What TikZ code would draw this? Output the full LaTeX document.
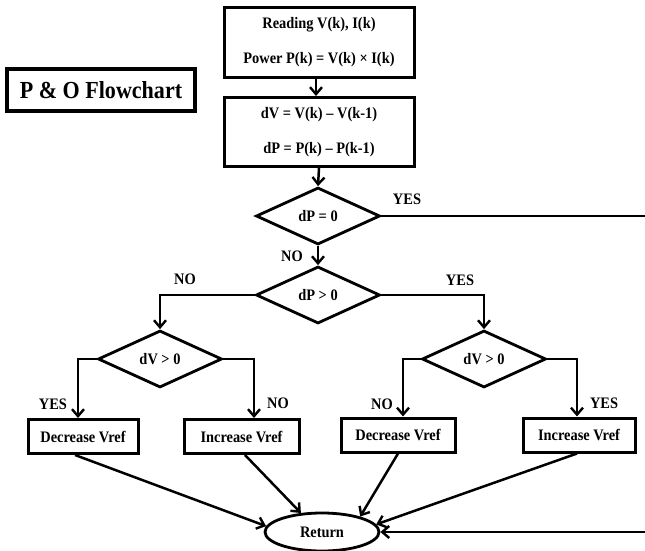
\documentclass[tikz,border=0pt]{standalone}
\usepackage{fontspec}
\setmainfont{Liberation Serif}[FakeStretch=0.9]
\usetikzlibrary{shapes.geometric,arrows.meta}
\begin{document}
\begin{tikzpicture}[x=1pt,y=-1pt,
  every node/.style={font=\bfseries\fontsize{16}{19}\selectfont, inner sep=0pt},
  procbox/.style={draw, line width=3pt, rectangle, minimum width=#1, minimum height=34pt},
  twoline/.style={draw, line width=3pt, rectangle, minimum width=190pt, minimum height=69pt,
    align=center, font=\bfseries\fontsize{16}{35}\selectfont},
  decision/.style={draw, line width=2.8pt, diamond, aspect=2.2, minimum width=124pt, minimum height=57pt},
  terminal/.style={draw, line width=2.8pt, ellipse, minimum width=114pt, minimum height=38pt},
  lbl/.style={},
  arr/.style={line width=2.5pt, -{Straight Barb[length=7pt,width=12pt,line width=2.4pt]}},
  link/.style={line width=2.5pt}
]
% page frame
\path[use as bounding box] (0,0) rectangle (645,551);
\fill[white] (0,0) rectangle (645,551);
\clip (0,0) rectangle (645,551);

% title
\node[draw, line width=3.5pt, minimum width=188pt, minimum height=42pt,
      font=\bfseries\fontsize{24.5}{28}\selectfont] (title) at (101,90) {P \& O Flowchart};

% measurement and differences
\node[twoline] (read) at (319,42.5) {Reading V(k), I(k)\\Power P(k) = V(k) × I(k)};
\node[twoline] (diff) at (319,132) {dV = V(k) – V(k-1)\\dP = P(k) – P(k-1)};

% decisions
\node[decision] (dz) at (318,216) {dP = 0};
\node[decision] (dp) at (318,295) {dP > 0};
\node[decision] (dvl) at (160,359) {dV > 0};
\node[decision] (dvr) at (484,359) {dV > 0};

% actions
\node[procbox=110pt] (decL) at (83,436.5) {Decrease Vref};
\node[procbox=115pt] (incL) at (241.5,436.5) {Increase Vref};
\node[procbox=114pt] (decR) at (398,435) {Decrease Vref};
\node[procbox=112pt] (incR) at (579,435) {Increase Vref};

% end
\node[terminal] (ret) at (322,532) {Return};

% branch labels
\node[lbl] (yz) at (407,199) {YES};
\node[lbl] (nz) at (292,256) {NO};
\node[lbl] (np) at (185,279) {NO};
\node[lbl] (yp) at (460,280) {YES};
\node[lbl] (yl) at (53,404) {YES};
\node[lbl] (nl) at (278,403) {NO};
\node[lbl] (nr) at (382,404) {NO};
\node[lbl] (yr) at (604,403) {YES};

% connectors
\draw[arr] (read.south -| 316,0) -- (diff.north -| 316,0);
\draw[arr] (diff.south) -- (dz.north);
\draw[arr] (dz.south) -- (dp.north);
\draw[arr] (dp.west) -| (dvl.north);
\draw[arr] (dp.east) -| (dvr.north);
\draw[arr] (dvl.west) -| ([xshift=-5pt]decL.north);
\draw[arr] (dvl.east) -| ([xshift=12.5pt]incL.north);
\draw[arr] (dvr.west) -| ([xshift=5pt]decR.north);
\draw[arr] (dvr.east) -| ([xshift=-2pt]incR.north);

\draw[arr] ([xshift=-8pt]decL.south) -- (ret.174);
\draw[arr] ([xshift=3.5pt]incL.south) -- (ret.138);
\draw[arr] (decR.south) -- (ret.22);
\draw[arr] ([xshift=-2pt]incR.south) -- (ret.8);

% the YES branch of dP = 0 runs past the right margin back to Return
\coordinate (rside) at (652,0);
\draw[arr] (dz.east) -| (rside |- ret.east) -- (ret.east);
\end{tikzpicture}
\end{document}
